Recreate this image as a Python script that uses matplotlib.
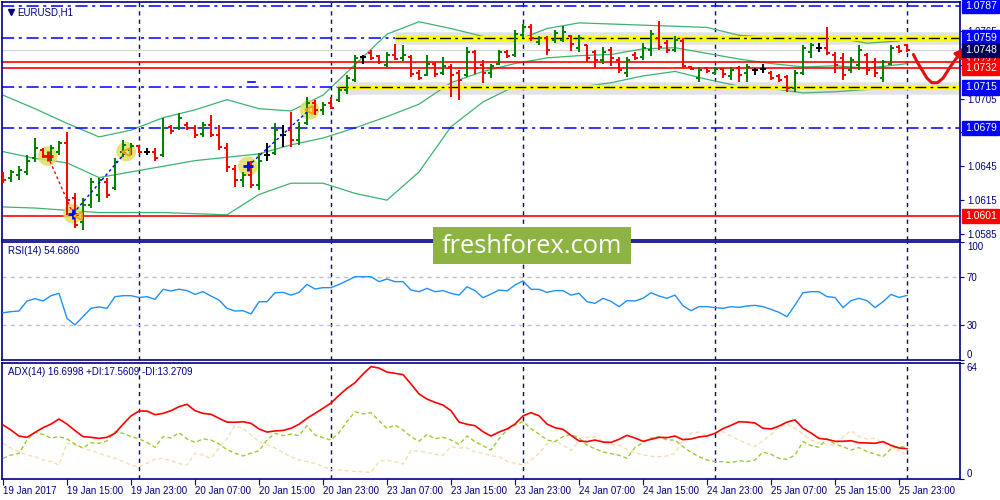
import matplotlib
matplotlib.use('Agg')
import matplotlib.pyplot as plt
from matplotlib.patches import Rectangle

plt.rcParams['font.family'] = ['Liberation Sans', 'DejaVu Sans']

# EURUSD H1, 19 Jan 07:00 .. 26 Jan 00:00
opens = [1.0638, 1.0635, 1.0637, 1.0640, 1.0652, 1.0659, 1.0654, 1.0658, 1.0666, 1.0617,
         1.0596, 1.0611, 1.0620, 1.0631, 1.0626, 1.0658, 1.0659, 1.0663, 1.0658, 1.0658,
         1.0655, 1.0680, 1.0679, 1.0682, 1.0679, 1.0674, 1.0682, 1.0673, 1.0661, 1.0643,
         1.0633, 1.0637, 1.0628, 1.0655, 1.0657, 1.0673, 1.0677, 1.0668, 1.0683, 1.0701,
         1.0695, 1.0701, 1.0704, 1.0713, 1.0721, 1.0742, 1.0745, 1.0743, 1.0735, 1.0744,
         1.0741, 1.0742, 1.0728, 1.0726, 1.0736, 1.0728, 1.0733, 1.0728, 1.0726, 1.0746,
         1.0735, 1.0728, 1.0736, 1.0746, 1.0744, 1.0761, 1.0768, 1.0755, 1.0759, 1.0757,
         1.0757, 1.0760, 1.0750, 1.0752, 1.0746, 1.0739, 1.0748, 1.0739, 1.0728, 1.0744,
         1.0742, 1.0748, 1.0759, 1.0754, 1.0748, 1.0756, 1.0733, 1.0723, 1.0732, 1.0728,
         1.0731, 1.0725, 1.0732, 1.0728, 1.0730, 1.0731, 1.0728, 1.0725, 1.0724, 1.0714,
         1.0728, 1.0746, 1.0750, 1.0750, 1.0744, 1.0741, 1.0730, 1.0735, 1.0744, 1.0737,
         1.0723, 1.0736, 1.0751, 1.0752]
highs = [1.0640, 1.0642, 1.0645, 1.0655, 1.0670, 1.0661, 1.0664, 1.0667, 1.0675, 1.0621,
         1.0617, 1.0635, 1.0635, 1.0635, 1.0652, 1.0668, 1.0666, 1.0664, 1.0661, 1.0661,
         1.0688, 1.0682, 1.0692, 1.0684, 1.0682, 1.0684, 1.0690, 1.0682, 1.0666, 1.0646,
         1.0640, 1.0650, 1.0657, 1.0666, 1.0683, 1.0682, 1.0693, 1.0684, 1.0706, 1.0704,
         1.0702, 1.0706, 1.0715, 1.0726, 1.0744, 1.0744, 1.0748, 1.0744, 1.0746, 1.0753,
         1.0752, 1.0744, 1.0730, 1.0744, 1.0737, 1.0742, 1.0736, 1.0730, 1.0751, 1.0748,
         1.0739, 1.0736, 1.0748, 1.0748, 1.0766, 1.0771, 1.0771, 1.0760, 1.0760, 1.0766,
         1.0769, 1.0761, 1.0761, 1.0752, 1.0748, 1.0751, 1.0751, 1.0742, 1.0742, 1.0746,
         1.0754, 1.0766, 1.0774, 1.0757, 1.0760, 1.0759, 1.0734, 1.0733, 1.0733, 1.0733,
         1.0732, 1.0733, 1.0734, 1.0736, 1.0732, 1.0736, 1.0729, 1.0727, 1.0726, 1.0730,
         1.0752, 1.0754, 1.0754, 1.0768, 1.0746, 1.0745, 1.0742, 1.0752, 1.0745, 1.0741,
         1.0739, 1.0752, 1.0752, 1.0753]
lows = [1.0630, 1.0631, 1.0633, 1.0637, 1.0649, 1.0652, 1.0650, 1.0655, 1.0602, 1.0590,
        1.0589, 1.0608, 1.0613, 1.0617, 1.0624, 1.0653, 1.0655, 1.0657, 1.0655, 1.0650,
        1.0653, 1.0674, 1.0677, 1.0677, 1.0670, 1.0671, 1.0671, 1.0659, 1.0640, 1.0627,
        1.0627, 1.0626, 1.0624, 1.0650, 1.0655, 1.0662, 1.0662, 1.0664, 1.0682, 1.0690,
        1.0690, 1.0696, 1.0702, 1.0709, 1.0720, 1.0736, 1.0739, 1.0736, 1.0733, 1.0739,
        1.0738, 1.0724, 1.0721, 1.0725, 1.0724, 1.0726, 1.0706, 1.0704, 1.0724, 1.0727,
        1.0719, 1.0723, 1.0735, 1.0741, 1.0742, 1.0759, 1.0756, 1.0752, 1.0744, 1.0754,
        1.0755, 1.0747, 1.0746, 1.0737, 1.0732, 1.0736, 1.0734, 1.0728, 1.0724, 1.0739,
        1.0739, 1.0743, 1.0748, 1.0745, 1.0746, 1.0732, 1.0730, 1.0720, 1.0728, 1.0726,
        1.0723, 1.0721, 1.0720, 1.0720, 1.0726, 1.0728, 1.0721, 1.0720, 1.0711, 1.0711,
        1.0726, 1.0741, 1.0746, 1.0744, 1.0728, 1.0721, 1.0728, 1.0730, 1.0726, 1.0724,
        1.0720, 1.0735, 1.0745, 1.0746]
closes = [1.0633, 1.0640, 1.0642, 1.0650, 1.0661, 1.0654, 1.0661, 1.0666, 1.0615, 1.0593,
          1.0611, 1.0631, 1.0633, 1.0620, 1.0649, 1.0664, 1.0663, 1.0658, 1.0658, 1.0652,
          1.0679, 1.0676, 1.0688, 1.0679, 1.0673, 1.0682, 1.0673, 1.0662, 1.0644, 1.0633,
          1.0637, 1.0628, 1.0650, 1.0655, 1.0677, 1.0673, 1.0668, 1.0679, 1.0701, 1.0695,
          1.0699, 1.0697, 1.0713, 1.0723, 1.0741, 1.0742, 1.0741, 1.0737, 1.0744, 1.0740,
          1.0744, 1.0727, 1.0723, 1.0736, 1.0727, 1.0734, 1.0726, 1.0721, 1.0746, 1.0732,
          1.0728, 1.0734, 1.0746, 1.0743, 1.0762, 1.0768, 1.0759, 1.0759, 1.0748, 1.0763,
          1.0764, 1.0753, 1.0759, 1.0741, 1.0739, 1.0746, 1.0741, 1.0730, 1.0739, 1.0741,
          1.0750, 1.0762, 1.0751, 1.0748, 1.0757, 1.0734, 1.0731, 1.0730, 1.0729, 1.0731,
          1.0727, 1.0730, 1.0726, 1.0733, 1.0730, 1.0731, 1.0723, 1.0721, 1.0714, 1.0728,
          1.0750, 1.0752, 1.0750, 1.0745, 1.0735, 1.0726, 1.0739, 1.0748, 1.0730, 1.0728,
          1.0737, 1.0750, 1.0747, 1.0748]

# Bollinger bands read every 4 bars
bb_idx = [0, 4, 8, 12, 16, 20, 24, 28, 32, 36, 40, 44, 48, 52, 56, 60, 64, 68, 72, 76,
          80, 84, 88, 92, 96, 100, 104, 108, 112, 113]
bb_upper = [1.0708, 1.0696, 1.0683, 1.0671, 1.0677, 1.0688, 1.0695, 1.0704, 1.0696, 1.0694,
            1.0708, 1.0735, 1.0762, 1.0773, 1.0767, 1.0760, 1.0756, 1.0767, 1.0772, 1.0771,
            1.0770, 1.0769, 1.0768, 1.0761, 1.0759, 1.0760, 1.0759, 1.0754, 1.0756, 1.0759]
bb_mid = [1.0658, 1.0652, 1.0648, 1.0635, 1.0640, 1.0645, 1.0650, 1.0653, 1.0656, 1.0664,
          1.0670, 1.0679, 1.0689, 1.0700, 1.0719, 1.0729, 1.0736, 1.0741, 1.0743, 1.0744,
          1.0749, 1.0750, 1.0745, 1.0740, 1.0736, 1.0733, 1.0734, 1.0732, 1.0735, 1.0736]
bb_lower = [1.0609, 1.0608, 1.0606, 1.0604, 1.0604, 1.0604, 1.0603, 1.0602, 1.0620, 1.0630,
            1.0630, 1.0621, 1.0615, 1.0640, 1.0680, 1.0702, 1.0716, 1.0714, 1.0715, 1.0719,
            1.0725, 1.0729, 1.0722, 1.0716, 1.0714, 1.0710, 1.0711, 1.0713, 1.0714, 1.0715]

rsi = [40.0, 41.0, 41.5, 50.0, 52.0, 50.0, 54.5, 56.5, 35.3, 29.7,
       36.7, 43.8, 45.0, 43.8, 53.7, 54.5, 54.5, 53.0, 53.7, 51.4,
       59.9, 58.5, 60.0, 58.8, 55.6, 57.9, 54.2, 50.8, 43.8, 41.5,
       41.8, 39.0, 49.4, 49.4, 57.0, 57.3, 55.0, 57.3, 64.1, 60.2,
       61.3, 61.3, 64.0, 67.2, 70.6, 70.6, 70.6, 66.4, 68.6, 66.4,
       66.4, 59.3, 57.9, 60.7, 57.9, 58.8, 56.5, 55.0, 62.1, 58.8,
       52.8, 55.9, 59.3, 58.5, 63.6, 67.0, 59.9, 59.9, 57.3, 58.8,
       58.8, 55.0, 56.5, 49.4, 48.0, 52.3, 49.7, 45.2, 50.3, 50.0,
       52.3, 57.0, 54.2, 52.3, 55.0, 46.0, 41.8, 45.2, 45.2, 44.4,
       43.8, 45.2, 44.6, 45.8, 46.3, 45.2, 42.9, 40.4, 36.7, 46.6,
       57.0, 57.9, 57.9, 53.7, 53.0, 44.4, 50.3, 52.3, 50.3, 44.4,
       49.4, 55.6, 53.0, 54.7]

adx = [29.8, 27.0, 23.7, 23.0, 25.7, 28.3, 30.3, 33.1, 30.3, 26.7,
       23.4, 23.0, 22.4, 23.0, 25.2, 30.2, 34.8, 37.5, 37.5, 35.5,
       36.2, 37.7, 39.9, 41.2, 37.7, 36.2, 35.7, 33.5, 31.4, 31.3,
       31.6, 30.7, 27.6, 25.9, 26.5, 26.8, 28.0, 30.2, 33.5, 36.2,
       39.0, 41.9, 46.2, 50.0, 53.1, 57.9, 62.0, 61.2, 59.0, 58.3,
       57.6, 52.4, 46.9, 44.1, 42.3, 40.8, 37.7, 31.4, 30.2, 29.4,
       26.1, 23.7, 25.9, 27.6, 30.3, 34.8, 36.6, 34.9, 30.3, 28.3,
       27.4, 24.1, 21.0, 20.6, 21.5, 20.4, 20.2, 21.9, 24.1, 22.6,
       20.8, 21.9, 23.0, 22.8, 23.7, 21.7, 22.1, 23.2, 23.7, 25.2,
       27.8, 29.6, 31.6, 31.4, 30.9, 28.0, 27.6, 29.2, 31.4, 32.6,
       28.0, 25.4, 22.4, 21.9, 20.8, 20.8, 21.1, 20.0, 19.9, 19.7,
       20.6, 18.6, 17.1, 16.7]
plus_di = [11.4, 13.2, 14.2, 21.5, 25.7, 24.6, 22.6, 23.4, 22.1, 19.3,
           17.1, 20.0, 19.7, 21.0, 26.1, 25.2, 23.4, 22.1, 20.2, 17.5,
           23.4, 22.6, 25.6, 22.1, 20.2, 22.1, 21.5, 19.3, 16.2, 14.2,
           12.7, 14.2, 15.6, 21.5, 25.2, 23.9, 24.8, 23.9, 29.4, 24.3,
           22.8, 21.5, 25.6, 31.6, 37.1, 35.9, 36.6, 32.1, 27.8, 29.8,
           27.0, 23.4, 20.8, 24.6, 22.2, 23.0, 21.5, 19.1, 23.7, 20.6,
           18.4, 16.0, 22.1, 27.0, 29.8, 31.6, 27.8, 24.8, 21.5, 20.6,
           23.4, 24.6, 22.6, 18.6, 16.7, 14.9, 14.0, 13.1, 11.4, 17.5,
           20.0, 22.6, 23.4, 21.5, 21.5, 17.8, 14.7, 12.3, 10.5, 9.6,
           9.6, 9.0, 10.1, 9.6, 10.5, 14.9, 13.6, 11.4, 10.8, 13.2,
           20.6, 18.4, 17.5, 22.2, 19.3, 17.8, 16.0, 17.3, 15.1, 13.8,
           12.3, 16.7, 17.8, 17.6]
minus_di = [19.7, 17.1, 15.1, 13.2, 12.3, 10.5, 9.6, 7.7, 19.7, 18.8,
            17.1, 15.6, 14.2, 12.7, 11.4, 9.6, 7.7, 6.8, 8.6, 11.0,
            11.4, 10.1, 8.6, 7.7, 14.2, 13.2, 11.4, 17.1, 22.4, 29.6,
            28.0, 24.3, 20.6, 18.8, 17.1, 14.5, 12.3, 10.5, 9.6, 8.6,
            6.8, 5.3, 5.0, 4.6, 4.2, 3.9, 3.6, 9.6, 10.5, 9.6,
            8.3, 15.7, 15.4, 14.7, 13.6, 13.2, 17.8, 17.1, 17.1, 15.1,
            14.2, 12.7, 12.3, 9.8, 8.6, 7.7, 10.5, 14.2, 19.3, 21.0,
            18.6, 15.8, 20.6, 23.0, 23.2, 20.8, 18.8, 18.8, 16.2, 14.5,
            13.4, 12.5, 12.3, 12.7, 14.2, 21.5, 25.2, 25.9, 23.7, 25.2,
            26.1, 23.7, 21.5, 19.5, 18.0, 21.0, 24.6, 28.5, 30.3, 28.0,
            24.8, 21.5, 19.7, 19.3, 18.4, 23.2, 26.7, 23.4, 22.1, 22.4,
            19.7, 17.8, 15.6, 13.3]

tick_idx = [0, 8, 16, 24, 32, 40, 48, 56, 64, 72, 80, 88, 96, 104, 112]
tick_labels = ['19 Jan 2017', '19 Jan 15:00', '19 Jan 23:00', '20 Jan 07:00', '20 Jan 15:00',
               '20 Jan 23:00', '23 Jan 07:00', '23 Jan 15:00', '23 Jan 23:00', '24 Jan 07:00',
               '24 Jan 15:00', '24 Jan 23:00', '25 Jan 07:00', '25 Jan 15:00', '25 Jan 23:00']
day_separators = [17, 41, 65, 89, 113]

# horizontal levels
blue_levels = [1.0787, 1.0679]
zone_levels = [1.0759, 1.0715]
zone_start = [49, 41.75]
red_levels = [1.0737, 1.0732, 1.0601]
bid = 1.0748

# trades drawn by the terminal
trade_x = [5.6, 8.75, 15.4, 30.6, 38.3]
trade_y = [1.0654, 1.0603, 1.0658, 1.0645, 1.0695]

# hand drawn forecast arrow
arrow_x = [113.8, 114.3, 114.9, 115.5, 116.1, 116.8, 117.5, 118.4, 119.3, 120.0]
arrow_y = [1.0744, 1.0737, 1.0730, 1.0723, 1.0719, 1.0719, 1.0723, 1.0733, 1.0742, 1.0749]

navy = '#000080'
X0, X1 = -0.125, 119.625

fig = plt.figure(figsize=(10, 5), dpi=100)
ax = fig.add_axes([0.002, 0.52, 0.958, 0.476])
ax_rsi = fig.add_axes([0.002, 0.28, 0.958, 0.236])
ax_adx = fig.add_axes([0.002, 0.042, 0.958, 0.232])

for a in (ax, ax_rsi, ax_adx):
    a.set_xlim(X0, X1)
    for s in a.spines.values():
        s.set_color(navy)
        s.set_linewidth(1.2)
    a.yaxis.tick_right()
    a.tick_params(axis='y', colors=navy, labelsize=7, length=3, pad=2)
    for d in day_separators:
        a.axvline(d, color=navy, lw=1, ls=(0, (3, 3)), zorder=1)

# ---- main price panel
ax.set_ylim(1.05797, 1.07905)
ax.set_xticks([])
yt = [1.0585, 1.0615, 1.0645, 1.0675, 1.0705, 1.0735, 1.0765]
ax.set_yticks(yt)
ax.set_yticklabels(['%.4f' % v for v in yt])

ax.plot(bb_idx, bb_upper, color='#3cb371', lw=0.9, zorder=2)
ax.plot(bb_idx, bb_mid, color='#3cb371', lw=0.9, zorder=2)
ax.plot(bb_idx, bb_lower, color='#3cb371', lw=0.9, zorder=2)

ax.axhline(bid, color='#d8d8d8', lw=1, zorder=1)
for lv in red_levels:
    ax.axhline(lv, color='red', lw=1.2, zorder=2)
for lv in blue_levels:
    ax.axhline(lv, color='blue', lw=1.1, ls=(0, (8, 3, 2, 3)), zorder=2)
for lv, st in zip(zone_levels, zone_start):
    ax.plot([X0, st], [lv, lv], color='blue', lw=1.1, ls=(0, (8, 3, 2, 3)), zorder=2)
    ax.plot([st, X1], [lv - 0.00006, lv - 0.00006], color='#909090', lw=9, alpha=0.25,
            solid_capstyle='butt', zorder=2)
    ax.plot([st, X1], [lv, lv], color='#ffff00', lw=3.5, solid_capstyle='butt', zorder=2)
    ax.plot([st, X1], [lv, lv], color='black', lw=1, ls=(0, (8, 3, 2, 3)), zorder=2)
ax.plot([30.6, 31.5], [1.0720, 1.0720], color='blue', lw=1.2, zorder=2)

# bars
xs = list(range(len(opens)))
cols = ['green' if c > o else ('red' if c < o else 'black') for o, c in zip(opens, closes)]
ax.vlines(xs, lows, highs, colors=cols, lw=1.4, zorder=4)
ax.hlines(opens, [x - 0.4 for x in xs], xs, colors=cols, lw=1.4, zorder=4)
ax.hlines(closes, xs, [x + 0.4 for x in xs], colors=cols, lw=1.4, zorder=4)

# trade markers
ax.scatter(trade_x, trade_y, s=200, color='#dede62', alpha=0.85, edgecolors='none', zorder=3)
ax.plot(trade_x[0:2], trade_y[0:2], color='red', lw=1, ls=(0, (2, 2)), zorder=5)
ax.plot(trade_x[1:3], trade_y[1:3], color='blue', lw=1, ls=(0, (2, 2)), zorder=5)
ax.plot(trade_x[3:5], trade_y[3:5], color='blue', lw=1, ls=(0, (2, 2)), zorder=5)
ax.plot(trade_x[0], trade_y[0], marker='+', color='red', ms=7, mew=2, zorder=6)
ax.plot([trade_x[1], trade_x[3]], [trade_y[1], trade_y[3]], ls='none', marker='+',
        color='blue', ms=7, mew=2, zorder=6)
ax.plot([trade_x[1] + 0.6, trade_x[2], trade_x[4]], [trade_y[1] - 0.0002, trade_y[2], trade_y[4]],
        ls='none', marker='<', mfc='none', mec='#f0a000', ms=6, mew=1.3, zorder=6)

# forecast arrow
ax.plot(arrow_x, arrow_y, color='#e01010', lw=2.2, clip_on=False, zorder=8,
        solid_capstyle='round')
ax.annotate('', xy=(120.5, 1.0752), xytext=(arrow_x[-2], arrow_y[-2]),
            arrowprops=dict(arrowstyle='-|>', color='#e01010', lw=2.2, mutation_scale=14),
            annotation_clip=False, zorder=8)

# price boxes on the right scale
boxes = [(1.0787, 'blue'), (1.0759, 'blue'), (1.0737, 'red'), (1.0748, '#00005a'),
         (1.0732, 'red'), (1.0715, 'blue'), (1.0679, 'blue'), (1.0601, 'red')]
for lv, fc in boxes:
    ax.text(1.005, lv, '%.4f' % lv, transform=ax.get_yaxis_transform(), fontsize=7.5,
            color='white', va='center', ha='left', clip_on=False, zorder=10,
            bbox=dict(boxstyle='square,pad=0.22', fc=fc, ec=fc))

ax.plot(0.009, 0.957, marker='v', color=navy, ms=4, transform=ax.transAxes)
ax.text(0.016, 0.957, 'EURUSD,H1', transform=ax.transAxes, fontsize=7, color=navy,
        va='center')

# ---- RSI panel
ax_rsi.plot(xs, rsi, color='#1e90ff', lw=1, zorder=3)
ax_rsi.axhline(70, color='#c0c0c0', lw=1, ls=(0, (3, 3)))
ax_rsi.axhline(30, color='#c0c0c0', lw=1, ls=(0, (3, 3)))
ax_rsi.set_ylim(0, 100)
ax_rsi.set_xticks([])
ax_rsi.set_yticks([0, 30, 70, 100])
ax_rsi.set_yticklabels(['0', '30', '70', '100'])
lab = ax_rsi.get_yticklabels()
lab[0].set_va('bottom')
lab[-1].set_va('top')
ax_rsi.text(0.006, 0.92, 'RSI(14) 54.6860', transform=ax_rsi.transAxes, fontsize=7,
            color=navy, va='center')

# ---- ADX panel
ax_adx.plot(xs, minus_di, color='#f5deb3', lw=1, ls=(0, (3, 2)), zorder=2)
ax_adx.plot(xs, plus_di, color='#9acd32', lw=1, ls=(0, (3, 2)), zorder=3)
ax_adx.plot(xs, adx, color='red', lw=1.2, zorder=4)
ax_adx.set_ylim(0, 64)
ax_adx.set_yticks([0, 64])
ax_adx.set_yticklabels(['0', '64'])
lab = ax_adx.get_yticklabels()
lab[0].set_va('bottom')
lab[-1].set_va('top')
ax_adx.set_xticks(tick_idx)
ax_adx.set_xticklabels(tick_labels, ha='left', fontsize=7, color=navy)
ax_adx.tick_params(axis='x', colors=navy, length=4, pad=1)
ax_adx.text(0.006, 0.92, 'ADX(14) 16.6998 +DI:17.5609 -DI:13.2709', transform=ax_adx.transAxes,
            fontsize=7, color=navy, va='center')

# watermark
fig.patches.append(Rectangle((0.433, 0.472), 0.198, 0.074, transform=fig.transFigure,
                             facecolor='#8db443', edgecolor='none', zorder=20))
fig.text(0.532, 0.507, 'freshforex.com', color='white', fontsize=18.4, family='Open Sans',
         ha='center', va='center', zorder=21)

fig.savefig('out.png', dpi=100)
